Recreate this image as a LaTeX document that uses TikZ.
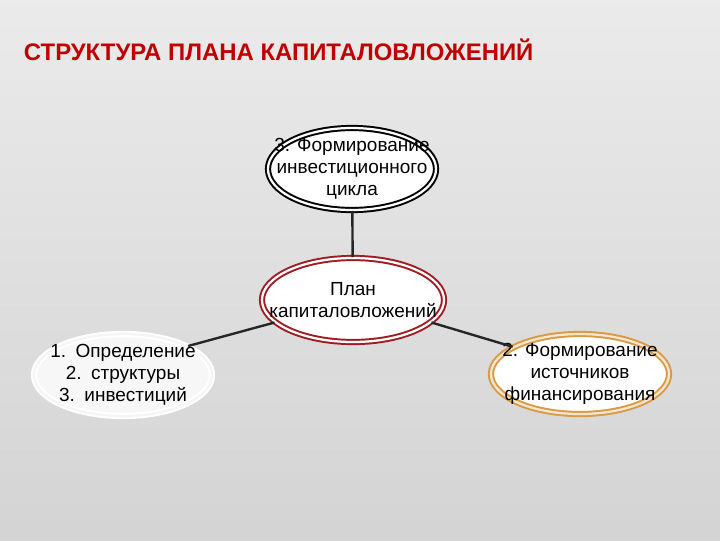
\documentclass[tikz,border=0pt]{standalone}
\usepackage{fontspec}
\setmainfont{Liberation Sans}
\usetikzlibrary{shapes.geometric}
\definecolor{titlered}{HTML}{C00000}
\definecolor{darkred}{HTML}{9E1C22}
\definecolor{ochre}{HTML}{D99A45}
\tikzset{
  oval/.style={ellipse, fill=white, line width=1.4pt, double distance=1.6pt},
  ovaltext/.style={align=center, font=\fontsize{13.5}{15.8}\selectfont},
  link/.style={line width=1.7pt, draw=black!85}
}
\begin{document}
\begin{tikzpicture}[x=0.025cm,y=-0.025cm]
  % фон слайда
  \shade[top color=gray!16, bottom color=gray!34] (0,0) rectangle (720,540);
  \useasboundingbox (0,0) rectangle (720,540);

  % заголовок
  \node[anchor=west, text=titlered, font=\bfseries\fontsize{17}{19}\selectfont] (title) at (19,50) {СТРУКТУРА ПЛАНА КАПИТАЛОВЛОЖЕНИЙ};

  % эллипсы
  \node[oval, draw=black, double=white, minimum width=4.2cm, minimum height=2.05cm] (cycle) at (352,169) {};
  \node[oval, draw=darkred, double=white, minimum width=4.55cm, minimum height=2.1cm] (plan) at (353,300) {};
  \node[oval, draw=white, double=gray!8, fill=gray!6, minimum width=4.45cm, minimum height=2.05cm] (struct) at (123,375) {};
  \node[oval, draw=ochre, double=ochre!25, minimum width=4.45cm, minimum height=2.0cm] (source) at (580,374) {};

  % тексты
  \node[ovaltext] (cycletext) at (cycle.center) {3. Формирование\\инвестиционного\\цикла};
  \node[ovaltext] (plantext) at (plan.center) {План\\капиталовложений};
  \node[ovaltext] (structtext) at (struct.center) {1.\enspace Определение\\2.\enspace структуры\\3.\enspace инвестиций};
  \node[ovaltext] (sourcetext) at (source.center) {2. Формирование\\источников\\финансирования};

  % связи
  \draw[link] (cycle) -- (plan);
  \draw[link] (plan.196) -- (struct.24);
  \draw[link] (plan.-16) -- (source.158);
\end{tikzpicture}
\end{document}
